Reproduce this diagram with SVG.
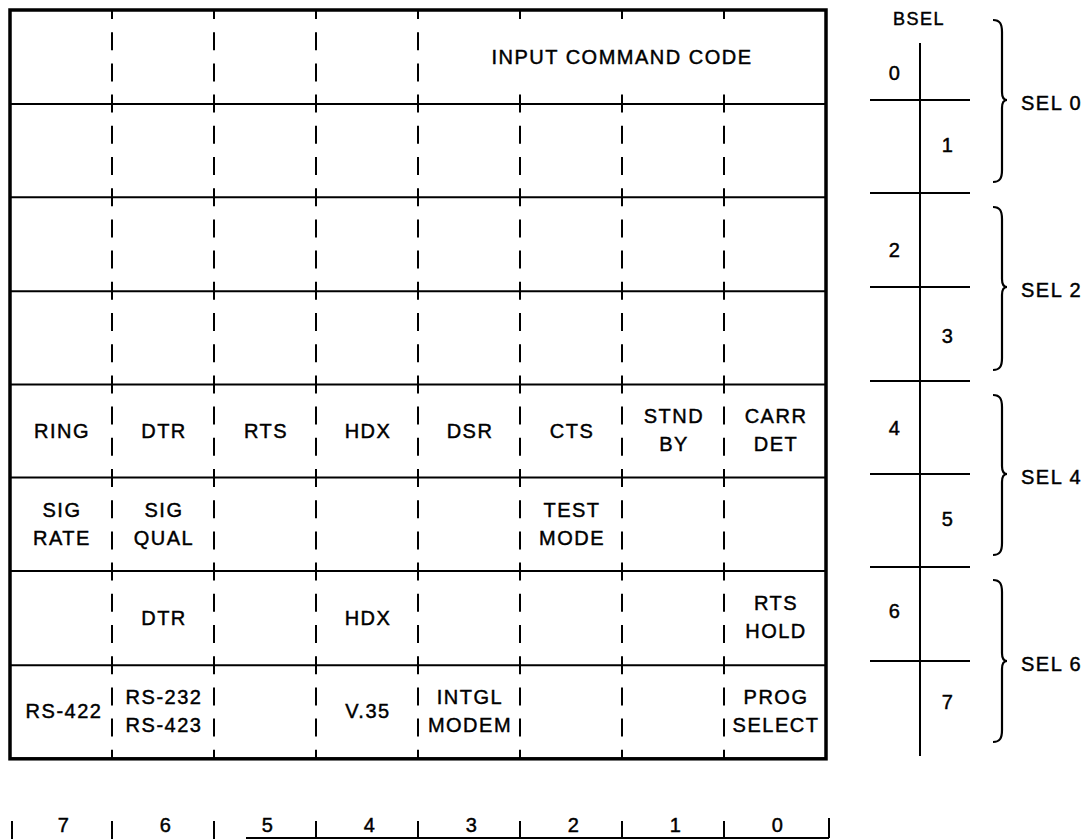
<svg xmlns="http://www.w3.org/2000/svg" width="1089" height="839" viewBox="0 0 1089 839">
<style>
.box{fill:none;stroke:#000;stroke-width:3.5}
.row{stroke:#000;stroke-width:2}
.dash{stroke:#000;stroke-width:2;stroke-dasharray:18 13.2;stroke-dashoffset:9}
.dash0{stroke:#000;stroke-width:2;stroke-dasharray:18 13.2}
.ln{stroke:#000;stroke-width:2;fill:none}
.brace{stroke:#000;stroke-width:2.2;fill:none}
.t{font-family:"Liberation Sans",Arial,sans-serif;font-size:20px;letter-spacing:1.5px;text-anchor:middle;fill:#000;stroke:#000;stroke-width:0.45}
.s{font-family:"Liberation Sans",Arial,sans-serif;font-size:20px;letter-spacing:1.5px;text-anchor:start;fill:#000;stroke:#000;stroke-width:0.45}
</style>
<rect width="1089" height="839" fill="#fff"/>

<g id="register-frame">
<rect class="box" x="10" y="10" width="816" height="748.8"/>
<line class="row" x1="10" y1="104" x2="826" y2="104"/>
<line class="row" x1="10" y1="197.2" x2="826" y2="197.2"/>
<line class="row" x1="10" y1="291.3" x2="826" y2="291.3"/>
<line class="row" x1="10" y1="384.4" x2="826" y2="384.4"/>
<line class="row" x1="10" y1="477.5" x2="826" y2="477.5"/>
<line class="row" x1="10" y1="571" x2="826" y2="571"/>
<line class="row" x1="10" y1="665.2" x2="826" y2="665.2"/>
</g>

<g id="connectors">
<line class="dash" x1="112" y1="10" x2="112" y2="758.8"/>
<line class="dash" x1="214" y1="10" x2="214" y2="758.8"/>
<line class="dash" x1="316" y1="10" x2="316" y2="758.8"/>
<line class="dash" x1="418" y1="10" x2="418" y2="758.8"/>
<line class="ln" x1="520" y1="10" x2="520" y2="19"/>
<line class="dash0" x1="520" y1="94.6" x2="520" y2="758.8"/>
<line class="ln" x1="622" y1="10" x2="622" y2="19"/>
<line class="dash0" x1="622" y1="94.6" x2="622" y2="758.8"/>
<line class="ln" x1="724" y1="10" x2="724" y2="19"/>
<line class="dash0" x1="724" y1="94.6" x2="724" y2="758.8"/>
</g>

<g id="input-command-code"><text class="t" x="622" y="64">INPUT COMMAND CODE</text></g>

<g id="sel4-byte4">
<g id="ring"><text class="t" x="62" y="438">RING</text></g>
<g id="dtr4"><text class="t" x="164" y="438">DTR</text></g>
<g id="rts4"><text class="t" x="266" y="438">RTS</text></g>
<g id="hdx4"><text class="t" x="368" y="438">HDX</text></g>
<g id="dsr"><text class="t" x="470" y="438">DSR</text></g>
<g id="cts"><text class="t" x="572" y="438">CTS</text></g>
<g id="stndby"><text class="t" x="674" y="423">STND</text><text class="t" x="674" y="451">BY</text></g>
<g id="carrdet"><text class="t" x="776" y="423">CARR</text><text class="t" x="776" y="451">DET</text></g>
</g>

<g id="sel4-byte5">
<g id="sigrate"><text class="t" x="62" y="517">SIG</text><text class="t" x="62" y="545">RATE</text></g>
<g id="sigqual"><text class="t" x="164" y="517">SIG</text><text class="t" x="164" y="545">QUAL</text></g>
<g id="testmode"><text class="t" x="572" y="517">TEST</text><text class="t" x="572" y="545">MODE</text></g>
</g>

<g id="sel6-byte6">
<g id="dtr6"><text class="t" x="164" y="625">DTR</text></g>
<g id="hdx6"><text class="t" x="368" y="625">HDX</text></g>
<g id="rtshold"><text class="t" x="776" y="610">RTS</text><text class="t" x="776" y="638">HOLD</text></g>
</g>

<g id="sel6-byte7">
<g id="rs422"><text class="t" x="64" y="718">RS-422</text></g>
<g id="rs232"><text class="t" x="164" y="704">RS-232</text><text class="t" x="164" y="732">RS-423</text></g>
<g id="v35"><text class="t" x="368" y="718">V.35</text></g>
<g id="intgl"><text class="t" x="470" y="704">INTGL</text><text class="t" x="470" y="732">MODEM</text></g>
<g id="progselect"><text class="t" x="776" y="704">PROG</text><text class="t" x="776" y="732">SELECT</text></g>
</g>

<g id="bsel">
<text class="t" x="919" y="25" style="font-size:18px">BSEL</text>
<line class="ln" x1="920" y1="43" x2="920" y2="756"/>
<line class="ln" x1="870" y1="100" x2="970" y2="100"/>
<line class="ln" x1="870" y1="193" x2="970" y2="193"/>
<line class="ln" x1="870" y1="287" x2="970" y2="287"/>
<line class="ln" x1="870" y1="381" x2="970" y2="381"/>
<line class="ln" x1="870" y1="474" x2="970" y2="474"/>
<line class="ln" x1="870" y1="567" x2="970" y2="567"/>
<line class="ln" x1="870" y1="661" x2="970" y2="661"/>
<text class="t" x="895" y="80">0</text>
<text class="t" x="948" y="152">1</text>
<text class="t" x="895" y="257">2</text>
<text class="t" x="948" y="343">3</text>
<text class="t" x="895" y="435">4</text>
<text class="t" x="948" y="526">5</text>
<text class="t" x="895" y="618">6</text>
<text class="t" x="948" y="709">7</text>
</g>

<g id="sel0">
<path class="brace" d="M993,20 C1000,20 1002,24 1002,32 L1002,92 C1002,97 1004,100 1007,100 C1004,100 1002,103 1002,108 L1002,170 C1002,178 1000,182 993,182"/>
<text class="s" x="1021" y="110">SEL 0</text>
</g>
<g id="sel2">
<path class="brace" d="M993,207 C1000,207 1002,211 1002,219 L1002,279 C1002,284 1004,287 1007,287 C1004,287 1002,290 1002,295 L1002,358 C1002,366 1000,370 993,370"/>
<text class="s" x="1021" y="297">SEL 2</text>
</g>
<g id="sel4">
<path class="brace" d="M993,395 C1000,395 1002,399 1002,407 L1002,466 C1002,471 1004,474 1007,474 C1004,474 1002,477 1002,482 L1002,543 C1002,551 1000,555 993,555"/>
<text class="s" x="1021" y="484">SEL 4</text>
</g>
<g id="sel6">
<path class="brace" d="M993,580 C1000,580 1002,584 1002,592 L1002,653 C1002,658 1004,661 1007,661 C1004,661 1002,664 1002,669 L1002,730 C1002,738 1000,742 993,742"/>
<text class="s" x="1021" y="671">SEL 6</text>
</g>

<g id="bit-numbers">
<line class="ln" x1="12" y1="821" x2="12" y2="839"/>
<line class="ln" x1="112" y1="821" x2="112" y2="839"/>
<line class="ln" x1="214" y1="821" x2="214" y2="839"/>
<line class="ln" x1="316" y1="821" x2="316" y2="838"/>
<line class="ln" x1="418" y1="821" x2="418" y2="838"/>
<line class="ln" x1="520" y1="821" x2="520" y2="838"/>
<line class="ln" x1="622" y1="821" x2="622" y2="838"/>
<line class="ln" x1="724" y1="821" x2="724" y2="838"/>
<line class="ln" x1="829" y1="818" x2="829" y2="838"/>
<line class="ln" x1="246" y1="838" x2="829" y2="838"/>
<text class="t" x="64" y="832">7</text>
<text class="t" x="166" y="832">6</text>
<text class="t" x="268" y="832">5</text>
<text class="t" x="370" y="832">4</text>
<text class="t" x="472" y="832">3</text>
<text class="t" x="574" y="832">2</text>
<text class="t" x="676" y="832">1</text>
<text class="t" x="778" y="832">0</text>
</g>
</svg>
